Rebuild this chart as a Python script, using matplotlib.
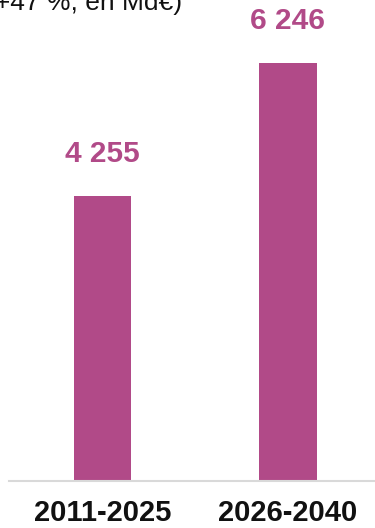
import matplotlib.pyplot as plt

# périodes et montants cumulés (Md€)
periodes = ['2011-2025', '2026-2040']
montants = [4255, 6246]

couleur = '#b14a88'

plt.rcParams['font.family'] = ['Liberation Sans', 'DejaVu Sans']

fig = plt.figure(figsize=(3.75, 5.28), dpi=100)
ax = fig.add_axes([9/375, 47/528, 366/375, 481/528])

x = range(len(periodes))
ax.bar(x, montants, width=0.31, color=couleur)

for xi, v in zip(x, montants):
    txt = f'{v:,}'.replace(',', ' ')
    ax.annotate(txt, (xi, v), xytext=(0, 28), textcoords='offset pixels',
                ha='center', va='bottom', fontsize=21.5, fontweight='bold', color=couleur)

ax.set_xlim(-0.504, 1.469)
ax.set_ylim(0, 7180)
ax.set_xticks(list(x))
ax.set_xticklabels(periodes, fontsize=21, fontweight='bold', color='#111111')
ax.tick_params(axis='x', length=0, pad=13)
ax.set_yticks([])
for s in ['top', 'right', 'left']:
    ax.spines[s].set_visible(False)
ax.spines['bottom'].set_color('#d9d9d9')
ax.spines['bottom'].set_linewidth(1.5)

# titre coupé en haut à gauche
fig.text(182/375, 1 - 10/528, '(+47 %, en Md€)', ha='right', va='baseline',
         fontsize=19, color='#111111')

fig.savefig('out.png', dpi=100)
